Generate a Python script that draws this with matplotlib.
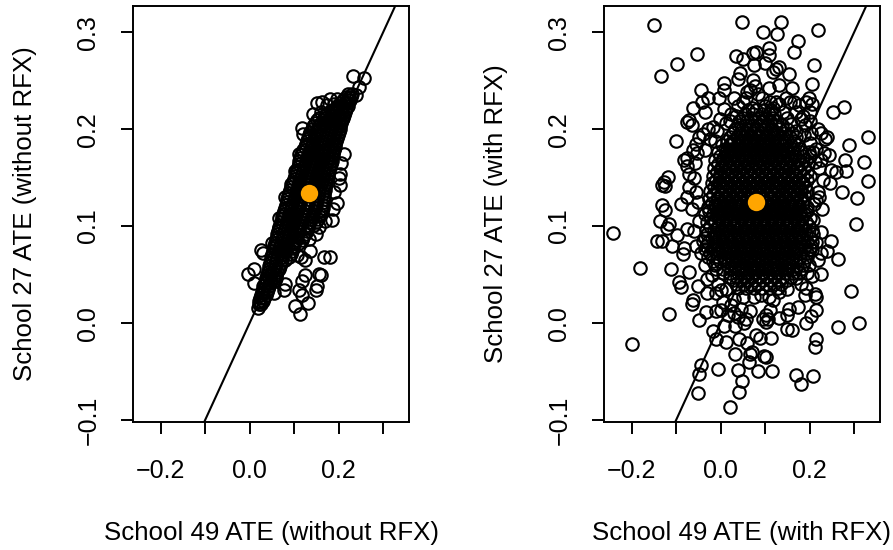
#!/usr/bin/env python3
"""
School 49 vs School 27 ATE draws, without and with random effects.
"""

import numpy as np
import matplotlib
matplotlib.use('Agg')
import matplotlib.pyplot as plt

plt.rcParams['font.family'] = ['Liberation Sans', 'DejaVu Sans']

# scattered draws (x, y)
left_edge = [
    (.232, .255), (.256, .253), (.245, .243), (.239, .235), (.196, .231), (.181, .231),
    (.162, .228), (.151, .227), (.173, .225), (.142, .216), (.117, .201), (.121, .195),
    (.110, .174), (.212, .174), (.102, .157), (.203, .154), (.203, .142), (.093, .143),
    (.080, .130), (.197, .124), (.188, .118), (.185, .106), (.065, .108), (.065, .099),
    (.155, .099), (.134, .087), (.050, .083), (.025, .075), (.030, .072), (.136, .074),
    (.166, .068), (.181, .068), (.106, .070), (.125, .065), (.115, .068), (.009, .056),
    (-.003, .051), (.010, .041), (.125, .050), (.155, .051), (.117, .043), (.080, .040),
    (.078, .034), (.151, .038), (.150, .034), (.111, .034), (.055, .031), (.117, .029),
    (.132, .021), (.102, .018), (.113, .009), (.018, .016), (.024, .022), (.031, .031),
    (.160, .050), (.205, .165), (.190, .135), (.170, .105), (.150, .092), (.200, .150),
    (.172, .215), (.165, .205), (.185, .220), (.178, .210), (.190, .226), (.160, .218),
]

# dense band of the left panel: one y per row, x values in that row
left_core_y = [.020, .023, .026, .029, .032, .035, .038, .041, .044, .047, .050, .053, .056, .059,
               .062, .065, .068, .071, .074, .077, .080, .083, .086, .089, .092, .095, .098, .101,
               .104, .107, .110, .113, .116, .119, .122, .125, .128, .131, .134, .137, .140, .143,
               .146, .149, .152, .155, .158, .161, .164, .167, .170, .173, .176, .179, .182, .185,
               .188, .191, .194, .197, .200, .203, .206, .209, .212, .215, .218, .221, .224, .227,
               .230, .233, .236]
left_core_x = [
    [.020, .026], [.022, .029], [.024, .033], [.026, .036], [.028, .038], [.030, .041],
    [.031, .043], [.034, .046], [.036, .049, .056], [.037, .044, .052, .060], [.038, .047, .059],
    [.041, .050, .062], [.043, .054, .066], [.044, .056, .068], [.046, .058, .070],
    [.048, .060, .072, .080], [.049, .061, .073, .088], [.051, .064, .076, .092],
    [.053, .066, .079, .095], [.054, .067, .080, .097], [.055, .068, .082, .098],
    [.057, .070, .084, .100, .112], [.059, .072, .086, .104, .118], [.061, .074, .088, .105, .121],
    [.062, .075, .090, .107, .125], [.064, .078, .092, .110, .128], [.066, .080, .095, .112, .130],
    [.068, .082, .097, .114, .132, .144], [.070, .083, .099, .116, .135, .150],
    [.072, .086, .102, .118, .137, .153], [.073, .088, .104, .120, .140, .156],
    [.076, .090, .106, .122, .142, .159], [.078, .091, .107, .125, .145, .162],
    [.080, .094, .110, .128, .146, .164], [.081, .096, .112, .130, .148, .165],
    [.083, .098, .114, .132, .150, .166], [.085, .099, .116, .134, .152, .166],
    [.087, .102, .118, .136, .154, .167], [.089, .104, .120, .138, .155, .168],
    [.091, .106, .122, .140, .156, .169], [.093, .108, .125, .142, .158, .170],
    [.095, .110, .127, .144, .160, .171], [.097, .112, .129, .146, .162, .172],
    [.099, .114, .131, .148, .164, .174], [.101, .116, .133, .150, .165, .176],
    [.104, .118, .135, .152, .166, .177], [.106, .120, .137, .154, .168, .178],
    [.108, .122, .139, .156, .170, .180], [.110, .124, .141, .158, .171, .182],
    [.112, .127, .143, .160, .173, .184], [.114, .129, .145, .161, .175, .186],
    [.116, .131, .147, .163, .176, .187], [.118, .133, .149, .165, .178, .188],
    [.121, .136, .151, .166, .180, .190], [.124, .138, .153, .168, .182, .191],
    [.126, .140, .155, .170, .184, .192], [.128, .143, .157, .172, .185, .194],
    [.131, .146, .160, .174, .188, .196], [.134, .148, .162, .176, .190, .198],
    [.136, .150, .164, .178, .192, .200], [.139, .153, .166, .180, .194, .202],
    [.143, .156, .169, .183, .196, .204], [.147, .160, .172, .186, .198, .206],
    [.151, .164, .176, .189, .201, .208], [.155, .168, .180, .192, .203, .210],
    [.170, .188, .200, .212], [.186, .195, .208, .215], [.192, .204, .216],
    [.196, .208, .220], [.204, .214, .222], [.210, .220, .226], [.216, .224, .228],
    [.222, .230],
]

# scattered draws (x, y)
right_edge = [
    (-.149, .307), (.048, .311), (.136, .310), (.095, .300), (.126, .298), (.219, .302),
    (.173, .291), (.164, .280), (.109, .284), (.079, .280), (.072, .279), (-.054, .278),
    (-.099, .267), (-.135, .255), (.210, .266), (.034, .275), (.051, .272), (.109, .276),
    (.075, .266), (.099, .268), (.131, .264), (.154, .257), (.117, .259), (.124, .262),
    (.038, .252), (.043, .258), (.008, .248), (.205, .247), (.072, .251), (.109, .242),
    (.131, .246), (.161, .242), (-.045, .240), (.008, .240), (-.028, .232), (-.003, .232),
    (-.041, .228), (.030, .232), (.278, .223), (.253, .218), (-.063, .222), (-.035, .218),
    (.008, .221), (.023, .216), (.199, .232), (.192, .228), (.205, .226), (.146, .232),
    (.176, .225), (.155, .228), (.060, .238), (.085, .236), (.125, .228), (.050, .228),
    (.100, .224), (.070, .222), (.140, .218), (.200, .218), (-.071, .209), (-.065, .204),
    (-.075, .207), (.332, .192), (-.100, .188), (.289, .184), (.244, .173), (.279, .168),
    (.322, .166), (.330, .147), (.281, .157), (.248, .158), (.260, .156), (.230, .148),
    (.245, .144), (.272, .135), (.306, .129), (.218, .135), (.214, .127), (.222, .130),
    (.210, .123), (.227, .118), (-.118, .151), (-.131, .142), (-.125, .141), (-.128, .145),
    (-.132, .122), (-.124, .117), (-.089, .123), (-.071, .154), (-.075, .170), (-.082, .168),
    (-.048, .192), (-.018, .202), (-.008, .198), (-.062, .178), (-.055, .185), (-.040, .195),
    (-.028, .200), (.218, .200), (.225, .196), (.235, .190), (.240, .192), (.200, .208),
    (.190, .204), (.180, .210), (.225, .168), (.232, .175), (.215, .180), (.222, .160),
    (-.070, .140), (-.075, .130), (-.060, .150), (-.055, .135), (-.065, .118), (-.050, .125),
    (-.075, .162), (-.058, .165), (-.052, .175), (-.242, .093), (.305, .102), (-.182, .057),
    (-.111, .056), (-.070, .053), (-.136, .105), (-.115, .102), (-.120, .098), (-.144, .085),
    (-.132, .085), (-.110, .080), (-.097, .091), (-.075, .097), (-.082, .077), (-.084, .071),
    (.248, .085), (.238, .074), (.263, .066), (-.093, .042), (-.088, .037), (-.051, .038),
    (-.030, .031), (-.011, .031), (-.062, .024), (-.065, .020), (-.117, .009), (-.033, .011),
    (-.048, .003), (-.011, .012), (-.017, -.008), (-.200, -.022), (-.010, -.016), (.013, -.020),
    (.042, -.016), (.060, -.021), (.079, -.012), (.089, -.015), (.114, -.015), (.032, -.032),
    (.071, -.030), (.066, -.032), (.064, -.040), (.101, -.035), (.098, -.034), (-.007, -.047),
    (-.043, -.043), (-.049, -.053), (.038, -.048), (.084, -.049), (.116, -.049), (.169, -.054),
    (.181, -.063), (.208, -.055), (.049, -.060), (.042, -.071), (-.051, -.072), (.022, -.087),
    (.292, .033), (.310, .000), (.264, -.004), (.215, -.016), (.212, -.025), (.160, -.007),
    (.150, -.006), (.192, .000), (.203, .007), (.214, .013), (.174, .017), (.154, .015),
    (.150, .008), (.131, .005), (.101, .008), (.101, .001), (.112, .013), (.095, .004),
    (.107, .004), (.214, .027), (.192, .036), (.189, .029), (.212, .030), (.170, .047),
    (.225, .051), (.206, .049), (.075, .027), (.090, .029), (.109, .027), (.131, .032),
    (.053, .000), (.033, -.003), (.008, -.003), (.016, .008), (.046, .015), (.067, .012),
    (.023, .019), (.005, .022), (.000, .014), (.030, .010), (.040, .006), (.058, .004),
    (.030, .025), (.050, .027), (.012, .035), (-.005, .040), (.150, .035), (.118, .024),
    (.207, .106), (.226, .094), (.214, .084), (.218, .065), (.205, .075), (.198, .060),
    (.225, .072), (.195, .052), (-.035, .060), (-.045, .072), (-.040, .085), (-.055, .080),
    (-.060, .095), (-.048, .105), (-.030, .045), (-.020, .050), (.000, .034), (.180, .040),
    # rings around the top of the cloud
    (.040, .224), (.056, .232), (.066, .240), (.078, .244), (.092, .232), (.110, .228),
    (.118, .222), (.132, .226), (.148, .212), (.158, .205), (.170, .198), (.020, .208),
    (.034, .214), (.012, .206), (-.002, .210), (-.012, .188), (-.024, .190), (-.034, .178),
    (.188, .194), (.200, .186), (.208, .176), (.212, .166), (.204, .196), (.170, .218),
    (.165, .228), (.186, .214),
]

# solid middle of the right panel: one y per row, x values in that row
right_core_y = [.036, .040, .044, .048, .052, .056, .060, .064, .068, .072, .076, .080, .084, .088,
                .092, .096, .100, .104, .108, .112, .116, .120, .124, .128, .132, .136, .140, .144,
                .148, .152, .156, .160, .164, .168, .172, .176, .180, .184, .188, .192, .196, .200,
                .204, .208, .212, .216, .220]
right_core_x = [
    [.040, .058, .076, .094, .112, .128],
    [.035, .052, .068, .085, .102, .120, .136],
    [.028, .045, .062, .078, .096, .113, .130, .148],
    [.020, .037, .055, .070, .088, .105, .122, .140, .158],
    [.006, .022, .040, .057, .074, .092, .108, .126, .144, .162, .176],
    [-.010, .006, .024, .041, .058, .075, .092, .110, .127, .144, .162, .180],
    [-.012, .014, .032, .049, .066, .083, .100, .118, .135, .153, .171, .186],
    [-.018, -.001, .016, .034, .050, .067, .084, .101, .118, .135, .152, .170, .188],
    [-.028, -.009, .008, .025, .042, .059, .076, .093, .110, .127, .144, .161, .179, .193],
    [-.024, -.008, .009, .026, .043, .060, .077, .094, .111, .128, .145, .162, .179, .195],
    [-.034, -.016, .001, .018, .035, .052, .069, .086, .103, .120, .137, .154, .171, .188, .200],
    [-.032, -.015, .002, .019, .036, .053, .070, .087, .104, .121, .138, .155, .172, .189, .203],
    [-.028, -.011, .006, .023, .040, .057, .074, .091, .108, .125, .142, .159, .176, .193, .206],
    [-.036, -.020, -.004, .013, .030, .047, .064, .081, .098, .115, .132, .149, .166, .183, .200],
    [-.030, -.012, .005, .021, .038, .055, .072, .089, .106, .123, .140, .157, .174, .191, .208],
    [-.032, -.015, .002, .019, .036, .053, .070, .087, .104, .121, .138, .155, .172, .189, .205],
    [-.025, -.006, .011, .028, .045, .062, .079, .096, .113, .130, .147, .164, .181, .198],
    [-.030, -.012, .005, .022, .039, .056, .073, .090, .107, .124, .141, .158, .175, .192],
    [-.022, -.004, .013, .030, .047, .064, .081, .098, .115, .132, .149, .166, .183, .200],
    [-.034, -.017, .000, .017, .034, .051, .068, .085, .102, .119, .136, .153, .170, .187],
    [-.026, -.009, .008, .025, .042, .059, .076, .093, .110, .127, .144, .161, .178, .195],
    [-.028, -.010, .007, .024, .041, .058, .075, .092, .109, .126, .143, .160, .177, .194],
    [-.019, -.002, .015, .032, .049, .066, .083, .100, .117, .134, .151, .168, .185],
    [-.026, -.008, .009, .026, .043, .060, .077, .094, .111, .128, .145, .162, .179],
    [-.017, .001, .018, .035, .052, .069, .086, .103, .120, .137, .154, .171, .188],
    [-.024, -.007, .010, .027, .044, .061, .078, .095, .112, .129, .146, .163, .180, .195],
    [-.014, .003, .020, .037, .054, .071, .088, .105, .122, .139, .156, .173, .190],
    [-.020, -.003, .014, .031, .048, .065, .082, .099, .116, .133, .150, .167, .184],
    [-.011, .006, .023, .040, .057, .074, .091, .108, .125, .142, .159, .176, .193],
    [-.018, -.001, .016, .033, .050, .067, .084, .101, .118, .135, .152, .169, .186, .200],
    [-.009, .008, .025, .042, .059, .076, .093, .110, .127, .144, .161, .178, .195],
    [-.016, .001, .018, .035, .052, .069, .086, .103, .120, .137, .154, .171, .188],
    [-.007, .010, .027, .044, .061, .078, .095, .112, .129, .146, .163, .180, .197],
    [-.012, .005, .022, .039, .056, .073, .090, .107, .124, .141, .158, .175, .192],
    [-.002, .014, .031, .048, .065, .082, .099, .116, .133, .150, .167, .184, .201],
    [-.006, .011, .028, .045, .062, .079, .096, .113, .130, .147, .164, .181, .198],
    [.010, .026, .042, .059, .076, .093, .110, .127, .144, .161, .178],
    [.004, .021, .038, .055, .072, .089, .106, .123, .140, .157, .174],
    [.014, .030, .047, .064, .081, .098, .115, .132, .149, .165],
    [.020, .037, .054, .071, .088, .105, .122, .139, .156, .170],
    [.028, .044, .060, .077, .094, .111, .127, .144, .160],
    [.032, .048, .065, .082, .099, .116, .130, .148],
    [.040, .056, .073, .090, .106, .122, .138],
    [.042, .060, .078, .094, .110, .126],
    [.050, .068, .086, .102, .116],
    [.055, .073, .092, .108, .120],
    [.062, .080, .098, .113],
]

# second pass over the same middle, this is where the draws pile up most
right_fill_y = [.058, .066, .074, .082, .090, .098, .106, .114, .122, .130, .138, .146, .154,
                .162, .170, .178, .186, .194]
right_fill_x = [
    [.030, .046, .063, .080, .097, .114, .131, .148],
    [.008, .024, .041, .058, .075, .092, .109, .126, .143, .160],
    [-.004, .012, .029, .046, .063, .080, .097, .114, .131, .148, .165],
    [-.008, .009, .027, .044, .061, .078, .095, .112, .129, .146, .163, .180],
    [-.012, .004, .021, .038, .056, .073, .090, .107, .124, .141, .158, .175],
    [-.008, .010, .027, .044, .061, .078, .095, .112, .129, .146, .163, .180],
    [-.014, .003, .020, .037, .054, .071, .088, .105, .122, .139, .156, .173],
    [-.008, .008, .026, .043, .060, .077, .094, .111, .128, .145, .162, .179],
    [-.012, .005, .022, .039, .056, .073, .090, .107, .124, .141, .158, .175],
    [-.006, .011, .028, .045, .062, .079, .096, .113, .130, .147, .164, .180],
    [-.009, .008, .025, .042, .059, .076, .093, .110, .127, .144, .161, .178],
    [-.004, .013, .030, .047, .064, .081, .098, .115, .132, .149, .166, .182],
    [-.002, .015, .032, .049, .066, .083, .100, .117, .134, .151, .168],
    [.002, .019, .036, .053, .070, .087, .104, .121, .138, .155, .172],
    [.006, .023, .040, .057, .074, .091, .108, .125, .142, .159],
    [.014, .031, .048, .065, .082, .099, .116, .133, .150],
    [.024, .041, .058, .075, .092, .109, .126, .143],
    [.048, .066, .084, .102, .118],
]

# posterior means shown in orange
left_mean = (.134, .134)
right_mean = (.080, .125)

x_ticks = [-.2, -.1, 0, .1, .2, .3]
x_tick_labels = ['\u22120.2', '', '0.0', '', '0.2', '']
y_ticks = [-.1, 0, .1, .2, .3]
y_tick_labels = ['\u22120.1', '0.0', '0.1', '0.2', '0.3']


def get_points(edge, *rows):
    xs = [p[0] for p in edge]
    ys = [p[1] for p in edge]
    for core_y, core_x in rows:
        for y, row in zip(core_y, core_x):
            xs.extend(row)
            ys.extend([y] * len(row))
    return np.array(xs), np.array(ys)


def draw_panel(ax, xs, ys, mean, xlabel, ylabel):
    ax.plot(xs, ys, 'o', mfc='none', mec='black', ms=9, mew=1.5, zorder=2)
    ax.plot([-1, 1], [-1, 1], color='black', lw=1.5, zorder=1)
    ax.plot(mean[0], mean[1], 'o', color='orange', ms=12.5, mew=0, zorder=3)

    ax.set_xlim(-.262, .358)
    ax.set_ylim(-.102, .327)
    ax.set_xticks(x_ticks)
    ax.set_xticklabels(x_tick_labels)
    ax.set_yticks(y_ticks)
    ax.set_yticklabels(y_tick_labels, rotation=90, va='center')
    ax.tick_params(length=8.5, width=1.4, labelsize=18, pad=18.5)
    ax.tick_params(axis='y', pad=15)
    for spine in ax.spines.values():
        spine.set_linewidth(1.4)

    ax.set_xlabel(xlabel, fontsize=18.6)
    ax.set_ylabel(ylabel, fontsize=18.6)
    ax.xaxis.set_label_coords(.5, -.238)
    ax.yaxis.set_label_coords(-.348, .5)


fig = plt.figure(figsize=(8.93, 5.5), dpi=100)
W, H = 893.0, 550.0
ax1 = fig.add_axes([133 / W, 1 - 422 / H, 276 / W, 416 / H])
ax2 = fig.add_axes([604 / W, 1 - 422 / H, 276 / W, 416 / H])

x1, y1 = get_points(left_edge, (left_core_y, left_core_x))
x2, y2 = get_points(right_edge, (right_core_y, right_core_x), (right_fill_y, right_fill_x))

draw_panel(ax1, x1, y1, left_mean, 'School 49 ATE (without RFX)', 'School 27 ATE (without RFX)')
draw_panel(ax2, x2, y2, right_mean, 'School 49 ATE (with RFX)', 'School 27 ATE (with RFX)')

fig.savefig('out.png', dpi=100)
